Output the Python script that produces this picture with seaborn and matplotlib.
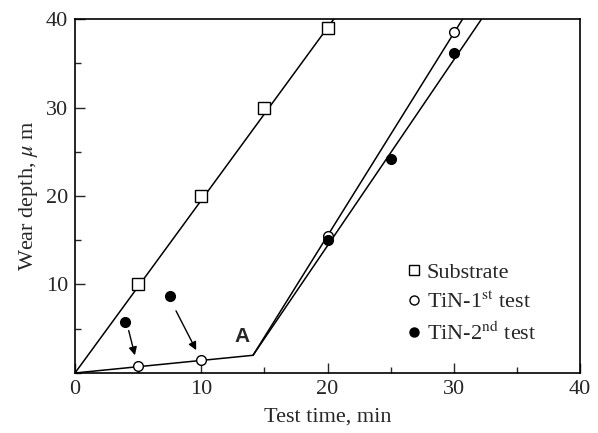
import numpy as np
import pandas as pd
import seaborn as sns
import matplotlib
matplotlib.use("Agg")
import matplotlib.pyplot as plt
from matplotlib.lines import Line2D
from matplotlib.ticker import MultipleLocator

# measured points
sub_time = [5, 10, 15, 20]
sub_wear = [10.1, 20.0, 30.0, 39.0]
tin1_time = [5, 10, 20, 30]
tin1_wear = [0.8, 1.5, 15.5, 38.5]
tin2_time = [4, 7.5, 20, 25, 30]
tin2_wear = [5.8, 8.7, 15.0, 24.2, 36.2]

# fitted lines
sub_fit_t = [0, 20.5]
sub_fit_w = [0, 40]
tin1_fit_t = [0, 14.1, 30.7]
tin1_fit_w = [0, 2.0, 40]
tin2_fit_t = [14.1, 32.2]
tin2_fit_w = [2.0, 40]

# arrows: (from_t, from_w, to_t, to_w)
arrows = [(4.2, 5.1, 4.8, 1.7), (7.9, 7.3, 9.7, 2.3)]

sns.set_style("ticks")
plt.rcParams['font.family'] = ['Liberation Serif', 'DejaVu Serif']
plt.rcParams['mathtext.fontset'] = 'stix'

fig = plt.figure(figsize=(5.98, 4.33), dpi=100)
ax = fig.add_axes([0.1254, 0.1386, 0.8446, 0.8175])

lw = 1.1
sns.lineplot(x=sub_fit_t, y=sub_fit_w, ax=ax, color="black", lw=lw, estimator=None, sort=False)
sns.lineplot(x=tin1_fit_t, y=tin1_fit_w, ax=ax, color="black", lw=lw, estimator=None, sort=False)
sns.lineplot(x=tin2_fit_t, y=tin2_fit_w, ax=ax, color="black", lw=lw, estimator=None, sort=False)

ax.plot(sub_time, sub_wear, ls="none", marker="s", ms=8, mfc="white", mec="black", mew=1.0, zorder=5)
ax.plot(tin1_time, tin1_wear, ls="none", marker="o", ms=7, mfc="white", mec="black", mew=1.0, zorder=5)
ax.plot(tin2_time, tin2_wear, ls="none", marker="o", ms=7, mfc="black", mec="black", mew=1.0, zorder=5)

for x0, y0, x1, y1 in arrows:
    ax.annotate("", xy=(x1, y1), xytext=(x0, y0),
                arrowprops=dict(arrowstyle="-|>", color="black", lw=1.0, mutation_scale=12))

ax.text(13.2, 4.1, "A", fontsize=15, fontweight="bold", family="Liberation Sans", ha="center", va="center")

ax.set_xlim(0, 40)
ax.set_ylim(0, 40)
ax.set_xticks([0, 10, 20, 30, 40])
ax.set_yticks([10, 20, 30, 40])
ax.xaxis.set_minor_locator(MultipleLocator(5))
ax.yaxis.set_minor_locator(MultipleLocator(5))
ax.tick_params(which="major", direction="in", length=7, width=1.0, labelsize=16, top=False, right=False, pad=5)
ax.tick_params(which="minor", direction="in", length=4, width=1.0, top=False, right=False)
for s in ax.spines.values():
    s.set_linewidth(1.2)
    s.set_color("black")

ax.set_xlabel("Test time, min", fontsize=16, labelpad=6)
ax.set_ylabel(r"Wear depth, $\mu$ m", fontsize=16, labelpad=4)

handles = [
    Line2D([], [], ls="none", marker="s", ms=6.5, mfc="white", mec="black"),
    Line2D([], [], ls="none", marker="o", ms=6.5, mfc="white", mec="black"),
    Line2D([], [], ls="none", marker="o", ms=6.5, mfc="black", mec="black"),
]
labels = ["Substrate", r"TiN-1$^{\rm st}$ test", r"TiN-2$^{\rm nd}$ test"]
ax.legend(handles, labels, loc="upper left", bbox_to_anchor=(0.628, 0.345), frameon=False,
          fontsize=16, handletextpad=0.05, handlelength=1.0, labelspacing=0.4, borderpad=0)

fig.savefig("out.png", dpi=100)
